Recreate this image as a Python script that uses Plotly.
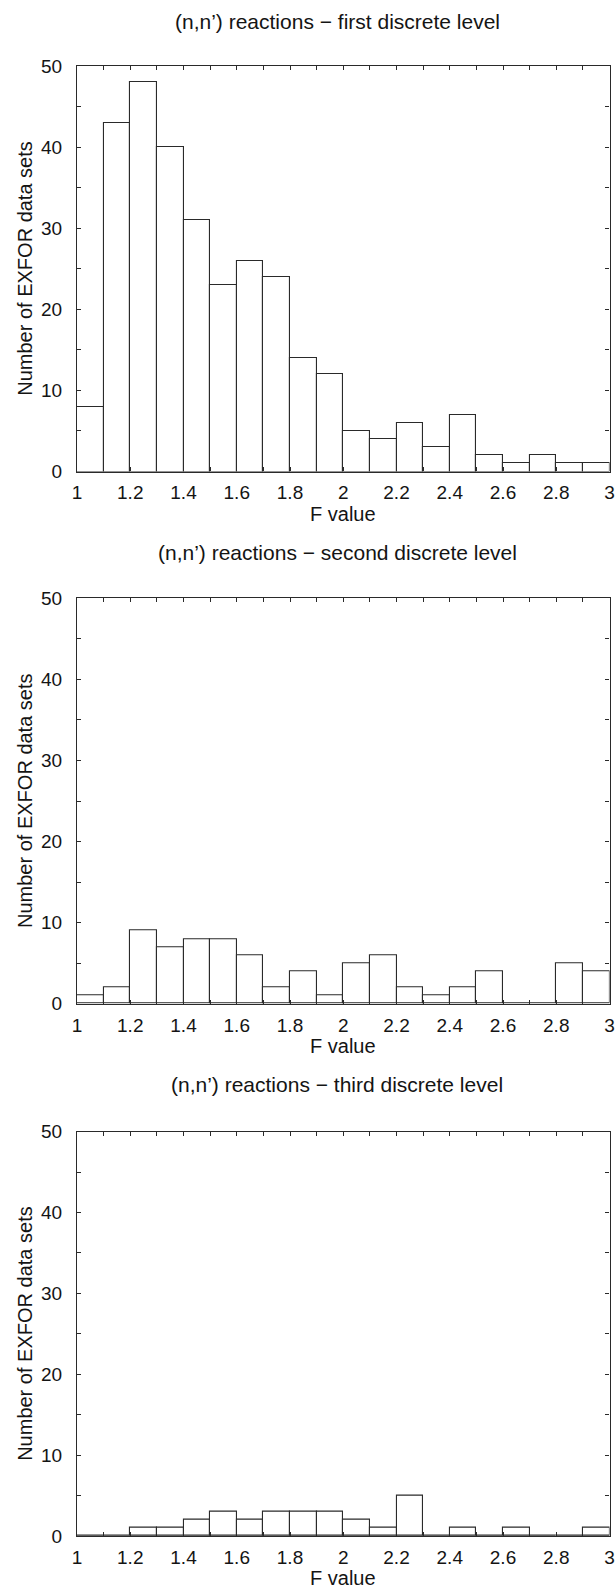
import plotly.graph_objects as go

# ---------------- data ----------------
bin_lo = [1.0, 1.1, 1.2, 1.3, 1.4, 1.5, 1.6, 1.7, 1.8, 1.9,
          2.0, 2.1, 2.2, 2.3, 2.4, 2.5, 2.6, 2.7, 2.8, 2.9]
bin_width = 0.1

counts_first = [8, 43, 48, 40, 31, 23, 26, 24, 14, 12,
                5, 4, 6, 3, 7, 2, 1, 2, 1, 1]
counts_second = [1, 2, 9, 7, 8, 8, 6, 2, 4, 1,
                 5, 6, 2, 1, 2, 4, 0, 0, 5, 4]
counts_third = [0, 0, 1, 1, 2, 3, 2, 3, 3, 3,
                2, 1, 5, 0, 1, 0, 1, 0, 0, 1]

titles = ["(n,n\u2019) reactions \u2212 first discrete level",
          "(n,n\u2019) reactions \u2212 second discrete level",
          "(n,n\u2019) reactions \u2212 third discrete level"]

x_tick_vals = [1.0, 1.1, 1.2, 1.3, 1.4, 1.5, 1.6, 1.7, 1.8, 1.9, 2.0,
               2.1, 2.2, 2.3, 2.4, 2.5, 2.6, 2.7, 2.8, 2.9, 3.0]
x_tick_text = ["1", "", "1.2", "", "1.4", "", "1.6", "", "1.8", "", "2",
               "", "2.2", "", "2.4", "", "2.6", "", "2.8", "", "3"]
y_tick_vals = [0, 5, 10, 15, 20, 25, 30, 35, 40, 45, 50]
y_tick_text = ["0", "", "10", "", "20", "", "30", "", "40", "", "50"]

x_title = "F value"
y_title = "Number of EXFOR data sets"

# ---------------- layout geometry (pixels) ----------------
W, H = 616, 1592
left_px, right_px = 77, 609.5
panels_px = [(66, 471.5), (598.3, 1003.7), (1131.7, 1536)]  # (top, bottom)
title_cy = [21.7, 552, 1084]

FONT = "Arial, Liberation Sans, Helvetica, sans-serif"
INK = "#141414"
LINE = "#2a2a2a"

fig = go.Figure()
series = [counts_first, counts_second, counts_third]

annotations = []
for i, (counts, (top, bot)) in enumerate(zip(series, panels_px)):
    n = i + 1
    xa = "x" if n == 1 else f"x{n}"
    ya = "y" if n == 1 else f"y{n}"
    fig.add_trace(go.Bar(
        x=bin_lo, y=counts, width=bin_width, offset=0,
        marker=dict(color="white", line=dict(color=LINE, width=1.1)),
        xaxis=xa, yaxis=ya, showlegend=False, hoverinfo="x+y"))

    dom_y = [1 - bot / H, 1 - top / H]
    axis_common = dict(
        showline=True, linecolor=LINE, linewidth=1.1, mirror="allticks",
        ticks="inside", ticklen=4, tickwidth=1, tickcolor=LINE,
        showgrid=False, zeroline=False, automargin=False,
        ticklabeloverflow="allow",
        tickfont=dict(family=FONT, size=19, color=INK),
        tickmode="array",
    )
    fig.layout[f"xaxis{'' if n == 1 else n}"] = dict(
        axis_common, domain=[left_px / W, right_px / W], range=[1, 3],
        tickvals=x_tick_vals, ticktext=x_tick_text, anchor=ya,
        ticklabelstandoff=4)
    fig.layout[f"yaxis{'' if n == 1 else n}"] = dict(
        axis_common, domain=dom_y, range=[0, 50],
        tickvals=y_tick_vals, ticktext=y_tick_text, anchor=xa,
        ticklabelstandoff=10)

    # panel title
    annotations.append(dict(
        text=titles[i], x=337 / W, y=1 - title_cy[i] / H,
        xref="paper", yref="paper",
        xanchor="center", yanchor="middle", showarrow=False,
        font=dict(family=FONT, size=21, color=INK)))
    # x axis title
    annotations.append(dict(
        text=x_title, x=(left_px + right_px) / 2 / W, y=1 - (bot + 42) / H,
        xref="paper", yref="paper", xanchor="center", yanchor="middle",
        showarrow=False, font=dict(family=FONT, size=20, color=INK)))
    # y axis title
    annotations.append(dict(
        text=y_title, x=25 / W, y=1 - (top + bot) / 2 / H,
        xref="paper", yref="paper", xanchor="center", yanchor="middle",
        textangle=-90, showarrow=False,
        font=dict(family=FONT, size=20, color=INK)))

fig.update_layout(
    width=W, height=H,
    margin=dict(l=0, r=0, t=0, b=0, autoexpand=False),
    paper_bgcolor="white", plot_bgcolor="white",
    annotations=annotations,
    bargap=0,
)

fig.write_html(
    "out.html",
    config={"displayModeBar": False},
    post_script=("document.documentElement.style.margin='0';"
                 "document.body.style.margin='0';"
                 "document.body.style.padding='0';"
                 "document.body.style.overflow='hidden';"),
)
